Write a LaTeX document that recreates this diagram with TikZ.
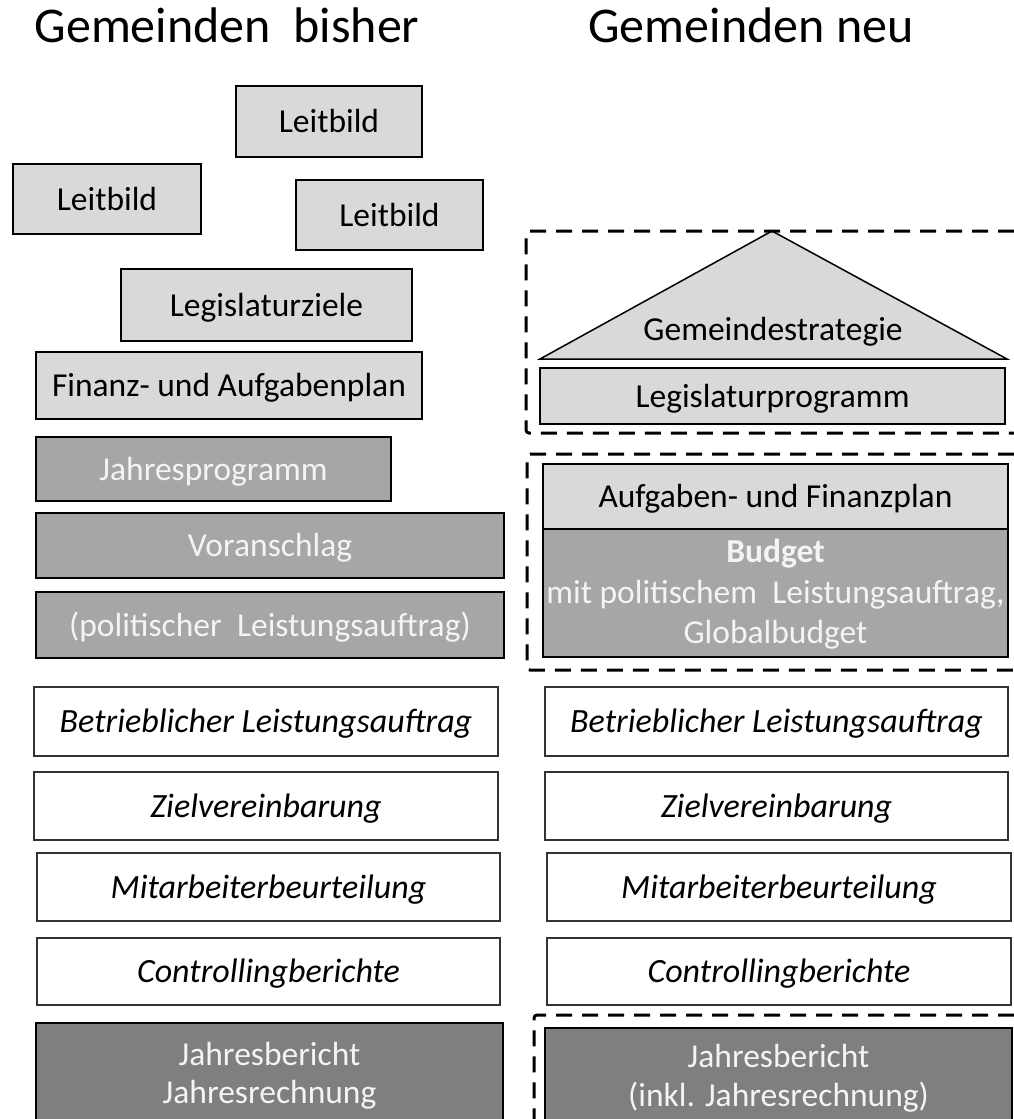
\documentclass[tikz,border=0pt]{standalone}
\usepackage{fontspec}
\setmainfont{Carlito}
\definecolor{lg}{HTML}{D9D9D9}
\definecolor{mg}{HTML}{A6A6A6}
\definecolor{dg}{HTML}{7F7F7F}
\definecolor{wt}{HTML}{F4F4F4}
\begin{document}
\begin{tikzpicture}[x=1pt,y=-1pt,
  base/.style={rectangle, inner sep=0pt, text height=22pt, text depth=0pt,
    font=\fontsize{33.5}{40}\selectfont},
  lbox/.style={base, draw=black, line width=2pt, fill=lg},
  mbox/.style={base, draw=black, line width=2pt, fill=mg, text=wt},
  wbox/.style={base, draw=black!80, line width=1.2pt, fill=white, font=\fontsize{34}{40}\selectfont\itshape},
  dbox/.style={draw=black, line width=1.5pt, fill=dg},
  txt/.style={inner sep=0pt, anchor=base, font=\fontsize{33.5}{40}\selectfont},
  wtxt/.style={txt, text=wt},
  title/.style={inner sep=0pt, anchor=base, font=\fontsize{50}{60}\selectfont},
  dashbox/.style={draw=black, line width=3pt, dash pattern=on 16pt off 10pt, rounded corners=3pt}]
\useasboundingbox (0,0) rectangle (1014,1119);
\clip (0,0) rectangle (1014,1119);

% titles
\node[title] (t1) at (227,42) {Gemeinden\ \ bisher};
\node[title] (t2) at (751,42) {Gemeinden neu};

% left column
\node[lbox, minimum width=186, minimum height=71] (lb1) at (329,121.5) {Leitbild};
\node[lbox, minimum width=188, minimum height=70] (lb2) at (107,199) {Leitbild};
\node[lbox, minimum width=187, minimum height=70] (lb3) at (389.5,215) {Leitbild};
\node[lbox, minimum width=291, minimum height=72] (lz) at (266.5,305) {Legislaturziele};
\node[lbox, minimum width=386, minimum height=67] (fap) at (229,385.5) {Finanz- und Aufgabenplan};
\node[mbox, minimum width=355, minimum height=64] (jp) at (213.5,469) {Jahresprogramm};
\node[mbox, minimum width=468, minimum height=65] (va) at (270,545.5) {Voranschlag};
\node[mbox, minimum width=468, minimum height=66] (pl) at (270,625) {(politischer\ \ Leistungsauftrag)};
\node[wbox, minimum width=464, minimum height=69] (bl1) at (266,721.5) {Betrieblicher Leistungsauftrag};
\node[wbox, minimum width=464, minimum height=68] (zv1) at (266,806) {Zielvereinbarung};
\node[wbox, minimum width=463, minimum height=68] (mb1) at (268.5,887) {Mitarbeiterbeurteilung};
\node[wbox, minimum width=463, minimum height=67] (cb1) at (268.5,971.5) {Controllingberichte};
\draw[dbox] (36,1023) rectangle (503,1140);
\node[wtxt] (jb1a) at (269.5,1065) {Jahresbericht};
\node[wtxt] (jb1b) at (269.5,1103) {Jahresrechnung};

% right column
\coordinate (apex) at (772,231);
\coordinate (bl) at (540,359);
\coordinate (br) at (1007,359);
\draw[fill=lg, line width=1.5pt, line join=miter] (bl) -- (apex) -- (br) -- cycle;
\node[txt] (gs) at (773,340) {Gemeindestrategie};
\node[lbox, minimum width=465, minimum height=56] (lp) at (772.5,396) {Legislaturprogramm};
\draw[dashbox] (1040,231) -- (526,231) -- (526,433) -- (1040,433);

\node[lbox, minimum width=465, minimum height=65] (afp) at (775.5,496.5) {Aufgaben- und Finanzplan};
\node[base, draw=black, line width=2pt, fill=mg, minimum width=465, minimum height=128] (bud) at (775.5,593) {};
\node[wtxt, font=\fontsize{33.5}{40}\selectfont\bfseries] (bud1) at (775.5,562) {Budget};
\node[wtxt] (bud2) at (775.5,603) {mit politischem\ \ Leistungsauftrag,};
\node[wtxt] (bud3) at (775.5,643) {Globalbudget};
\draw[dashbox] (1040,454) -- (527,454) -- (527,670) -- (1040,670);

\node[wbox, minimum width=463, minimum height=69] (bl2) at (776.5,721.5) {Betrieblicher Leistungsauftrag};
\node[wbox, minimum width=463, minimum height=68] (zv2) at (776.5,806) {Zielvereinbarung};
\node[wbox, minimum width=464, minimum height=68] (mb2) at (779,887) {Mitarbeiterbeurteilung};
\node[wbox, minimum width=464, minimum height=67] (cb2) at (779,971.5) {Controllingberichte};
\draw[dashbox] (1040,1015) -- (534,1015) -- (534,1140);
\draw[dbox] (545,1028) rectangle (1012,1140);
\node[wtxt] (jb2a) at (778.5,1067) {Jahresbericht};
\node[wtxt] (jb2b) at (778.5,1106) {(inkl. Jahresrechnung)};
\end{tikzpicture}
\end{document}
